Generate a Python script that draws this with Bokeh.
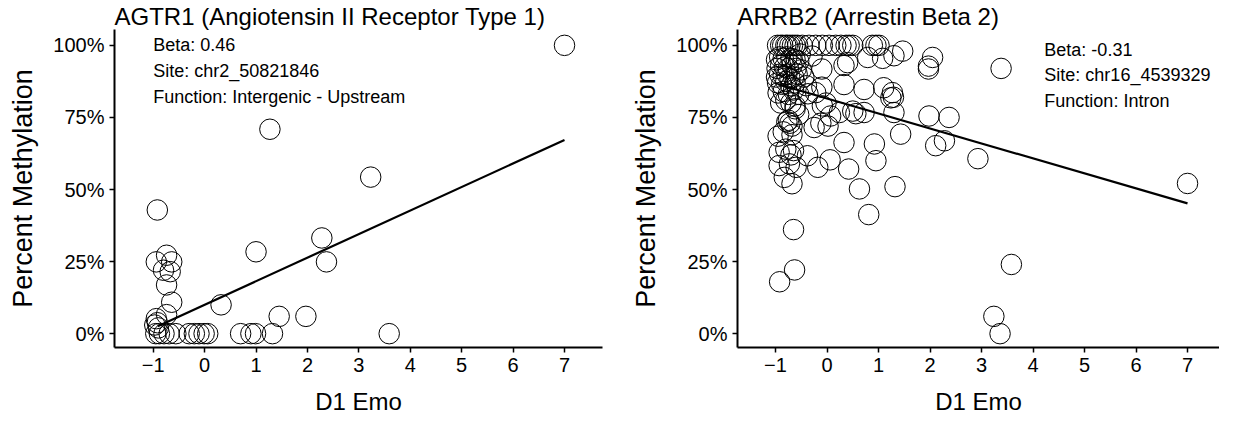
from bokeh.plotting import figure
from bokeh.layouts import row
from bokeh.models import Range1d, FixedTicker, NumeralTickFormatter
from bokeh.core.properties import value
from bokeh.embed import file_html
from bokeh.resources import INLINE

FONT = "Liberation Sans"

x_ticks = [-1, 0, 1, 2, 3, 4, 5, 6, 7]
y_ticks = [0.0, 0.25, 0.5, 0.75, 1.0]
x_label = "D1 Emo"
y_label = "Percent Methylation"

# ---- AGTR1 panel ----
agtr1_title = "AGTR1 (Angiotensin II Receptor Type 1)"
agtr1_x = [7.0, 1.27, 3.23, -0.92, 1.00, 2.28, 2.37, 0.32, 1.45, 1.97, 3.59, 1.32, 0.99, 0.90, 0.70,
           -0.94, -0.74, -0.64, -0.80, -0.67, -0.74, -0.64, -0.74, -0.94, -0.92, -0.97, -0.90,
           -0.95, -0.88, -0.79, -0.69, -0.56, -0.30, -0.20, -0.11, -0.01, 0.06]
agtr1_y = [1.0, 0.709, 0.543, 0.429, 0.284, 0.332, 0.249, 0.10, 0.06, 0.06, 0.0, 0.0, 0.0, 0.0, 0.0,
           0.249, 0.272, 0.249, 0.22, 0.215, 0.169, 0.109, 0.066, 0.052, 0.038, 0.03, 0.02,
           0.0, 0.0, 0.0, 0.0, 0.0, 0.0, 0.0, 0.0, 0.0, 0.0]
agtr1_fit_x = [-0.91, 7.0]
agtr1_fit_y = [0.026, 0.672]
agtr1_notes = ["Beta: 0.46", "Site: chr2_50821846", "Function: Intergenic - Upstream"]

# ---- ARRB2 panel ----
arrb2_title = "ARRB2 (Arrestin Beta 2)"
arrb2_x = [
    # top row
    -0.96, -0.90, -0.86, -0.80, -0.77, -0.72, -0.67, -0.62, -0.57, -0.48, -0.35, -0.22, -0.09,
    0.04, 0.17, 0.27, 0.37, 0.43, 0.50, 0.88, 0.95, 1.01,
    # near top
    1.47, 1.30, 1.08, 0.79, 0.40, 2.05, -0.29, -0.52, 1.97, 1.97, -0.10, 3.38, 0.33,
    # dense cluster
    -0.98, -0.92, -0.85, -0.78, -0.70, -0.62, -0.55,
    -0.97, -0.90, -0.82, -0.75, -0.68, -0.60, -0.50,
    -0.98, -0.92, -0.85, -0.78, -0.72, -0.65, -0.58, -0.45,
    -0.96, -0.88, -0.80, -0.70, -0.62, -0.40,
    -0.95, -0.85, -0.75, -0.65, -0.55, -0.37,
    -0.90, -0.80, -0.70, -0.62,
    # middle
    0.33, 0.72, 1.10, 1.27, 1.24, 1.29, -0.22, -0.10, -0.09, 0.07, 0.50, 0.72, 0.24, 1.30,
    1.98, 2.37, 1.43, 0.92, 0.95, 0.33, -0.25, -0.12, 0.02, 2.11, 2.28, 2.93, 0.42, 0.06,
    -0.02, 0.56,
    # lower cluster near -1
    -0.78, -0.72, -0.68, -0.75, -0.95, -0.85, -0.68, -0.93, -0.80, -0.70, -0.65, -0.38,
    -0.18, -0.93, -0.73, -0.60, -0.83, -0.68, -0.62, -0.55,
    # low
    7.0, 3.58, 3.24, 3.36, -0.92, -0.63, -0.65, 0.81, 0.63, 1.32,
]
arrb2_y = [
    1.0, 1.0, 1.0, 1.0, 1.0, 1.0, 1.0, 1.0, 1.0, 1.0, 1.0, 1.0, 1.0,
    1.0, 1.0, 1.0, 1.0, 1.0, 1.0, 1.0, 1.0, 1.0,
    0.98, 0.964, 0.955, 0.958, 0.94, 0.958, 0.963, 0.97, 0.928, 0.918, 0.918, 0.92, 0.93,
    0.95, 0.96, 0.955, 0.96, 0.955, 0.95, 0.945,
    0.92, 0.93, 0.925, 0.92, 0.93, 0.92, 0.915,
    0.89, 0.90, 0.895, 0.90, 0.885, 0.89, 0.90, 0.89,
    0.87, 0.865, 0.875, 0.86, 0.87, 0.86,
    0.835, 0.84, 0.83, 0.845, 0.83, 0.832,
    0.80, 0.81, 0.80, 0.79,
    0.864, 0.847, 0.853, 0.836, 0.818, 0.82, 0.836, 0.855, 0.79, 0.755, 0.772, 0.767, 0.767, 0.767,
    0.755, 0.75, 0.692, 0.658, 0.60, 0.663, 0.715, 0.73, 0.72, 0.652, 0.669, 0.607, 0.571, 0.603,
    0.80, 0.763,
    0.735, 0.73, 0.72, 0.74, 0.685, 0.70, 0.69, 0.629, 0.64, 0.62, 0.635, 0.617,
    0.577, 0.583, 0.589, 0.577, 0.542, 0.52, 0.78, 0.76,
    0.521, 0.24, 0.06, 0.0, 0.18, 0.221, 0.361, 0.413, 0.502, 0.51,
]
arrb2_fit_x = [-0.95, 7.0]
arrb2_fit_y = [0.865, 0.452]
arrb2_notes = ["Beta: -0.31", "Site: chr16_4539329", "Function: Intron"]


def make_panel(title, xs, ys, fit_x, fit_y, notes, note_x, note_y,
               x_start, x_end, width, border_left, border_right):
    p = figure(width=width, height=417, output_backend="svg", toolbar_location=None,
               x_range=Range1d(x_start, x_end), y_range=Range1d(-0.048, 1.055),
               min_border_left=border_left, min_border_right=border_right,
               min_border_top=24, min_border_bottom=70)
    p.title.text = title
    p.title.text_font = FONT
    p.title.text_font_size = "24px"
    p.title.text_font_style = "normal"
    p.title.text_color = "black"
    p.title.text_line_height = 1.0
    p.title.align = "left"
    p.title.standoff = 0
    p.outline_line_color = None
    p.grid.visible = False
    p.background_fill_color = "white"
    p.border_fill_color = "white"

    for ax in (p.xaxis[0], p.yaxis[0]):
        ax.axis_line_color = "black"
        ax.axis_line_width = 2
        ax.major_tick_line_color = "black"
        ax.major_tick_line_width = 1.5
        ax.major_tick_out = 5
        ax.major_tick_in = 0
        ax.minor_tick_line_color = None
        ax.major_label_text_font = FONT
        ax.major_label_text_font_size = "20px"
        ax.major_label_text_color = "black"
        ax.axis_label_text_font = FONT
        ax.axis_label_text_font_style = "normal"
        ax.axis_label_text_color = "black"
        ax.axis_label_text_line_height = 1.0
        ax.major_label_standoff = 5

    p.xaxis.ticker = FixedTicker(ticks=x_ticks)
    p.yaxis.ticker = FixedTicker(ticks=y_ticks)
    p.yaxis.formatter = NumeralTickFormatter(format="0%")
    p.xaxis.axis_label = x_label
    p.yaxis.axis_label = y_label
    p.xaxis.axis_label_text_font_size = "24px"
    p.yaxis.axis_label_text_font_size = "27px"
    p.xaxis.axis_label_standoff = 13
    p.yaxis.axis_label_standoff = 12

    p.scatter(xs, ys, size=20.5, marker="circle", fill_color=None,
              line_color="black", line_width=1)
    p.line(fit_x, fit_y, line_color="black", line_width=2.2)
    p.text(x=[note_x] * len(notes), y=note_y, text=notes,
           text_font=value(FONT), text_font_size="18px", text_color="black",
           text_align="left", text_baseline="middle")
    return p


p1 = make_panel(agtr1_title, agtr1_x, agtr1_y, agtr1_fit_x, agtr1_fit_y,
                agtr1_notes, -1.0, [1.0, 0.91, 0.82],
                -1.753, 7.739, 611, 114, 9)
p2 = make_panel(arrb2_title, arrb2_x, arrb2_y, arrb2_fit_x, arrb2_fit_y,
                arrb2_notes, 4.22, [0.983, 0.897, 0.806],
                -1.738, 7.621, 608, 126, 0)

layout = row(p1, p2)
open("out.html", "w").write(file_html(layout, INLINE))
